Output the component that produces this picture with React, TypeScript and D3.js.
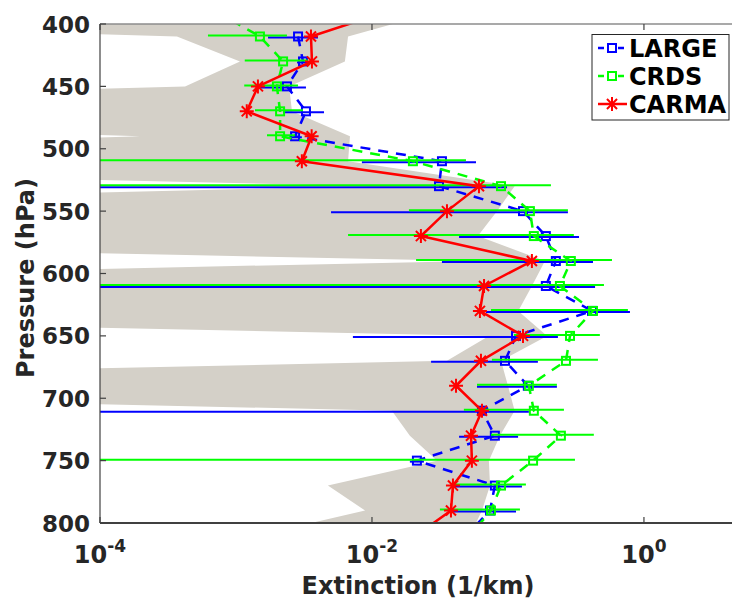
import React, { useEffect, useRef } from "react";
import { select, scaleLog, scaleLinear, line, area } from "d3";

const W = 732;
const H = 600;
const PLOT = { left: 100, top: 24, right: 739, bottom: 523 };
const FONT = "'DejaVu Sans', 'Liberation Sans', Arial, sans-serif";
const INK = "#262626";
const BAND = "#d4d0c8";

// Model range (grey band), min / max extinction per level. 1e-10 = effectively zero.
const BAND_P = [390, 410, 430, 450, 470, 490, 510, 530, 550, 570, 590, 610, 630, 650, 670, 690, 710, 730, 750, 770, 790, 810];
const BAND_MIN = [1e-10, 3.68e-4, 1.07e-3, 4.22e-4, 1e-10, 1.97e-4, 1e-10, 9.66e-3, 1e-10, 1e-10, 0.0571, 1e-10, 1e-10, 0.0724, 0.0356, 1e-10, 0.014, 0.019, 0.0301, 4.74e-3, 8.9e-3, 1.43e-3];
const BAND_MAX = [0.0305, 6.67e-3, 6.32e-3, 2.46e-3, 2.58e-3, 6.89e-3, 6.67e-3, 0.112, 0.083, 0.0601, 0.187, 0.15, 0.119, 0.194, 0.0889, 0.1, 0.112, 0.0873, 0.0724, 0.0738, 0.0644, 0.0526];

// CARMA model profile
const CARMA_P = [390, 410, 430, 450, 470, 490, 510, 530, 550, 570, 590, 610, 630, 650, 670, 690, 710, 730, 750, 770, 790, 810];
const CARMA_EXT = [0.0129, 0.00356, 0.00362, 0.00145, 0.0012, 0.0036, 0.00305, 0.0612, 0.0356, 0.0229, 0.15, 0.0667, 0.0622, 0.129, 0.0633, 0.0415, 0.0644, 0.0535, 0.0543, 0.0394, 0.0381, 0.0211];

// LARGE observations with horizontal error bars (1e-6 = bar runs off the axis)
const LARGE_P = [410, 430, 450, 470, 490, 510, 530, 550, 570, 590, 610, 630, 650, 670, 690, 710, 730, 750, 770, 790, 810];
const LARGE_EXT = [2.86e-3, 3.11e-3, 2.37e-3, 3.27e-3, 2.72e-3, 0.0327, 0.0311, 0.129, 0.19, 0.225, 0.19, 0.415, 0.1146, 0.0951, 0.14, 0.0644, 0.0801, 0.0214, 0.0801, 0.0738, 0.0491];
const LARGE_LO = [1.72e-3, 2.81e-3, 1.45e-3, 2.22e-3, 2.46e-3, 8.43e-3, 1e-6, 5.0e-3, 0.0437, 0.0327, 1e-6, 0.0689, 7.24e-3, 0.0272, 0.0592, 1e-6, 0.0437, 0.019, 0.0401, 0.0362, null];
const LARGE_HI = [4.01e-3, 3.5e-3, 3.27e-3, 4.44e-3, 3.05e-3, 0.0582, 0.0984, 0.276, 0.333, 0.422, 0.437, 0.789, 0.233, 0.166, 0.229, 0.1425, 0.1187, 0.0241, 0.1267, 0.1146, null];

// CRDS observations
const CRDS_P = [390, 410, 430, 450, 470, 490, 510, 530, 550, 570, 590, 610, 630, 650, 670, 690, 710, 730, 750, 770, 790, 810];
const CRDS_EXT = [7.13e-4, 1.5e-3, 2.22e-3, 2.0e-3, 2.11e-3, 2.11e-3, 0.02, 0.0889, 0.145, 0.155, 0.29, 0.241, 0.422, 0.286, 0.267, 0.1425, 0.155, 0.245, 0.153, 0.0889, 0.075, 0.0526];
const CRDS_LO = [null, 6.22e-4, 1.16e-3, 1.15e-3, 1.38e-3, 1.69e-3, 1e-6, 1e-6, 0.0187, 6.67e-3, 0.0211, 1e-6, 0.075, 0.1107, 0.0762, 0.0592, 0.0474, 0.075, 1e-6, 0.0401, 0.0316, null];
const CRDS_HI = [null, 2.37e-3, 3.38e-3, 2.86e-3, 3.11e-3, 2.72e-3, 0.0491, 0.207, 0.276, 0.305, 0.582, 0.508, 0.762, 0.474, 0.459, 0.229, 0.258, 0.428, 0.311, 0.1355, 0.1225, null];

const X_TICKS = [1e-4, 1e-2, 1];
const X_TICK_EXP = ["-4", "-2", "0"];
const Y_TICKS = [400, 450, 500, 550, 600, 650, 700, 750, 800];

const LEGEND = [
  { name: "LARGE", color: "#0000ff", dash: "6 4", marker: "square" },
  { name: "CRDS", color: "#00ff00", dash: "6 4", marker: "square" },
  { name: "CARMA", color: "#ff0000", dash: null, marker: "star" },
];

const starPath = (r: number) => {
  const d = r * 0.72;
  return `M${-r},0L${r},0M0,${-r}L0,${r}M${-d},${-d}L${d},${d}M${-d},${d}L${d},${-d}`;
};

export default function App() {
  const ref = useRef<SVGSVGElement>(null);

  useEffect(() => {
    if (!ref.current) return;
    const svg = select(ref.current);
    svg.selectAll("*").remove();

    const x = scaleLog().domain([1e-4, 5]).range([PLOT.left, PLOT.right]);
    const y = scaleLinear().domain([400, 800]).range([PLOT.top, PLOT.bottom]);

    svg
      .append("defs")
      .append("clipPath")
      .attr("id", "plot-clip")
      .append("rect")
      .attr("x", PLOT.left)
      .attr("y", PLOT.top)
      .attr("width", PLOT.right - PLOT.left)
      .attr("height", PLOT.bottom - PLOT.top);

    const g = svg.append("g").attr("clip-path", "url(#plot-clip)");

    // Grey model range.
    const band = BAND_P.map((p, i) => ({ p, lo: BAND_MIN[i], hi: BAND_MAX[i] }));
    const bandArea = area<(typeof band)[number]>()
      .y((d) => y(d.p))
      .x0((d) => x(d.lo))
      .x1((d) => x(d.hi));
    g.append("path").datum(band).attr("d", bandArea).attr("fill", BAND).attr("stroke", "none");

    const drawObs = (
      P: number[],
      ext: number[],
      lo: (number | null)[],
      hi: (number | null)[],
      color: string,
      nudge: number,
    ) => {
      const bars = P.map((p, i) => ({ p, lo: lo[i], hi: hi[i] })).filter((d) => d.lo != null);
      g.selectAll(null)
        .data(bars)
        .join("line")
        .attr("x1", (d) => x(d.lo as number))
        .attr("x2", (d) => x(d.hi as number))
        .attr("y1", (d) => y(d.p) + nudge)
        .attr("y2", (d) => y(d.p) + nudge)
        .attr("stroke", color)
        .attr("stroke-width", 2);

      const pts = P.map((p, i) => ({ p, v: ext[i] }));
      const ln = line<(typeof pts)[number]>()
        .x((d) => x(d.v))
        .y((d) => y(d.p));
      g.append("path")
        .datum(pts)
        .attr("d", ln)
        .attr("fill", "none")
        .attr("stroke", color)
        .attr("stroke-width", 2.5)
        .attr("stroke-dasharray", "10 8");

      g.selectAll(null)
        .data(pts)
        .join("rect")
        .attr("x", (d) => x(d.v) - 4)
        .attr("y", (d) => y(d.p) - 4)
        .attr("width", 8)
        .attr("height", 8)
        .attr("fill", "none")
        .attr("stroke", color)
        .attr("stroke-width", 2);
    };

    drawObs(LARGE_P, LARGE_EXT, LARGE_LO, LARGE_HI, "#0000ff", 1);
    drawObs(CRDS_P, CRDS_EXT, CRDS_LO, CRDS_HI, "#00ff00", -1);

    // CARMA line + asterisks.
    const carma = CARMA_P.map((p, i) => ({ p, v: CARMA_EXT[i] }));
    g.append("path")
      .datum(carma)
      .attr("d", line<(typeof carma)[number]>().x((d) => x(d.v)).y((d) => y(d.p)))
      .attr("fill", "none")
      .attr("stroke", "#ff0000")
      .attr("stroke-width", 2.5);
    g.selectAll(null)
      .data(carma)
      .join("path")
      .attr("transform", (d) => `translate(${x(d.v)},${y(d.p)})`)
      .attr("d", starPath(7))
      .attr("fill", "none")
      .attr("stroke", "#ff0000")
      .attr("stroke-width", 2);

    // Axes box.
    svg.append("line")
      .attr("x1", PLOT.left).attr("x2", W)
      .attr("y1", PLOT.top).attr("y2", PLOT.top)
      .attr("stroke", "#8c8c8c").attr("stroke-width", 1.5);
    svg.append("line")
      .attr("x1", PLOT.left).attr("x2", W)
      .attr("y1", PLOT.bottom).attr("y2", PLOT.bottom)
      .attr("stroke", "#404040").attr("stroke-width", 2);
    svg.append("line")
      .attr("x1", PLOT.left).attr("x2", PLOT.left)
      .attr("y1", PLOT.top).attr("y2", PLOT.bottom)
      .attr("stroke", "#404040").attr("stroke-width", 1.2);

    // Y ticks + labels.
    svg.selectAll(null)
      .data(Y_TICKS)
      .join("line")
      .attr("x1", PLOT.left).attr("x2", PLOT.left + 6)
      .attr("y1", (d) => y(d)).attr("y2", (d) => y(d))
      .attr("stroke", "#404040").attr("stroke-width", 1.2);
    svg.selectAll(null)
      .data(Y_TICKS)
      .join("text")
      .attr("x", 90)
      .attr("y", (d) => y(d) + 8.5)
      .attr("text-anchor", "end")
      .attr("font-family", FONT)
      .attr("font-weight", "bold")
      .attr("font-size", "23px")
      .attr("fill", INK)
      .text((d) => `${d}`);

    // X ticks (bottom and top) + labels.
    X_TICKS.forEach((t, i) => {
      svg.append("line")
        .attr("x1", x(t)).attr("x2", x(t))
        .attr("y1", PLOT.bottom).attr("y2", PLOT.bottom - 6)
        .attr("stroke", "#404040").attr("stroke-width", 1.2);
      svg.append("line")
        .attr("x1", x(t)).attr("x2", x(t))
        .attr("y1", PLOT.top).attr("y2", PLOT.top + 6)
        .attr("stroke", "#404040").attr("stroke-width", 1.2);
      const txt = svg.append("text")
        .attr("x", x(t))
        .attr("y", 563)
        .attr("text-anchor", "middle")
        .attr("font-family", FONT)
        .attr("font-weight", "bold")
        .attr("font-size", "24px")
        .attr("fill", INK);
      txt.append("tspan").text("10");
      txt.append("tspan").attr("dy", -11).attr("font-size", "17px").text(X_TICK_EXP[i]);
    });

    // Axis titles.
    svg.append("text")
      .attr("x", 418)
      .attr("y", 594)
      .attr("text-anchor", "middle")
      .attr("font-family", FONT)
      .attr("font-weight", "bold")
      .attr("font-size", "24px")
      .attr("fill", INK)
      .text("Extinction (1/km)");
    svg.append("text")
      .attr("transform", "translate(34,278) rotate(-90)")
      .attr("text-anchor", "middle")
      .attr("font-family", FONT)
      .attr("font-weight", "bold")
      .attr("font-size", "24px")
      .attr("fill", INK)
      .text("Pressure (hPa)");

    // Legend.
    const lg = svg.append("g");
    lg.append("rect")
      .attr("x", 592).attr("y", 34.5)
      .attr("width", 137).attr("height", 85.5)
      .attr("fill", "#ffffff")
      .attr("stroke", INK)
      .attr("stroke-width", 1);
    LEGEND.forEach((e, i) => {
      const cy = 48 + i * 28;
      lg.append("line")
        .attr("x1", 598).attr("x2", 627)
        .attr("y1", cy).attr("y2", cy)
        .attr("stroke", e.color)
        .attr("stroke-width", 2.5)
        .attr("stroke-dasharray", e.dash ?? null);
      if (e.marker === "square") {
        lg.append("rect")
          .attr("x", 608).attr("y", cy - 4)
          .attr("width", 8).attr("height", 8)
          .attr("fill", "#ffffff")
          .attr("stroke", e.color)
          .attr("stroke-width", 2);
      } else {
        lg.append("path")
          .attr("transform", `translate(612,${cy})`)
          .attr("d", starPath(7))
          .attr("stroke", e.color)
          .attr("stroke-width", 2);
      }
      lg.append("text")
        .attr("x", 629)
        .attr("y", cy + 9)
        .attr("font-family", FONT)
        .attr("font-weight", "bold")
        .attr("font-size", "24px")
        .attr("fill", "#000000")
        .text(e.name);
    });
  }, []);

  return (
    <svg
      ref={ref}
      width={W}
      height={H}
      viewBox={`0 0 ${W} ${H}`}
      style={{ position: "absolute", left: 0, top: 0, background: "#ffffff" }}
    />
  );
}
